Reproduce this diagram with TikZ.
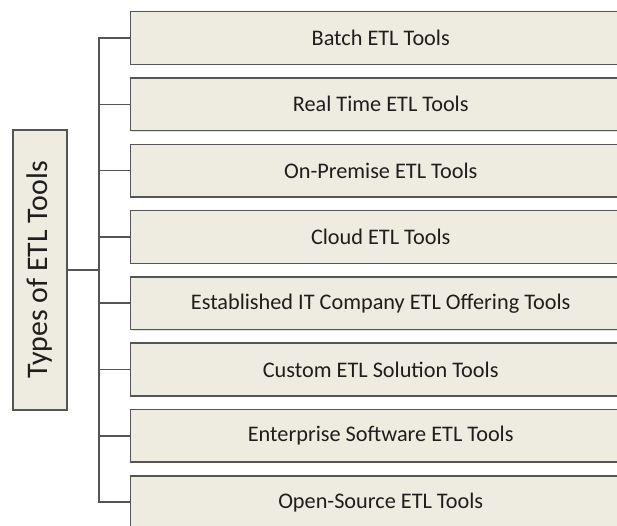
\documentclass[tikz,border=0pt]{standalone}
\usepackage{fontspec}
\setmainfont{Carlito}
\usetikzlibrary{shadows}

\tikzset{every picture/.style={line width=1.1pt}}
\tikzset{
  typebox/.style={draw={rgb,255:red,85;green,85;blue,85}, fill={rgb,255:red,238;green,235;blue,224},
    minimum width=375pt, minimum height=39.5pt, inner sep=0pt, anchor=west,
    drop shadow={shadow xshift=0.8pt, shadow yshift=-0.8pt, opacity=0.25},
    font=\fontsize{16.7}{20}\selectfont, text={rgb,255:red,30;green,30;blue,30}},
  rootbox/.style={draw={rgb,255:red,85;green,85;blue,85}, fill={rgb,255:red,238;green,235;blue,224},
    minimum width=210pt, minimum height=40.5pt, inner sep=0pt, rotate=90,
    drop shadow={shadow xshift=0.8pt, shadow yshift=-0.8pt, opacity=0.25},
    font=\fontsize{22.4}{26}\selectfont, text={rgb,255:red,30;green,30;blue,30}},
  branch/.style={draw={rgb,255:red,85;green,85;blue,85}}
}

\begin{document}
\begin{tikzpicture}[x=0.75pt,y=0.75pt,yscale=-1,xscale=1]
\useasboundingbox (0,0) rectangle (617,525);
\clip (0,0) rectangle (617,525);

% Root box
\node [rootbox] (root) at (40,270) {Types of ETL Tools};

% Type boxes
\node [typebox] (batch) at (130,38) {Batch ETL Tools};
\node [typebox] (realtime) at (130,104.3) {Real Time ETL Tools};
\node [typebox] (onprem) at (130,170.6) {On-Premise ETL Tools};
\node [typebox] (cloud) at (130,236.9) {Cloud ETL Tools};
\node [typebox] (itcomp) at (130,303.2) {Established IT Company ETL Offering Tools};
\node [typebox] (custom) at (130,369.5) {Custom ETL Solution Tools};
\node [typebox] (enterp) at (130,435.8) {Enterprise Software ETL Tools};
\node [typebox] (opensrc) at (130,502.1) {Open-Source ETL Tools};

% Bus
\coordinate (bus) at (99,270);
\draw [branch] (root.south) -- (bus);
\foreach \t in {batch,realtime,onprem,cloud,itcomp,custom,enterp,opensrc}
  \draw [branch] (\t.west) -| (bus);

\end{tikzpicture}
\end{document}
